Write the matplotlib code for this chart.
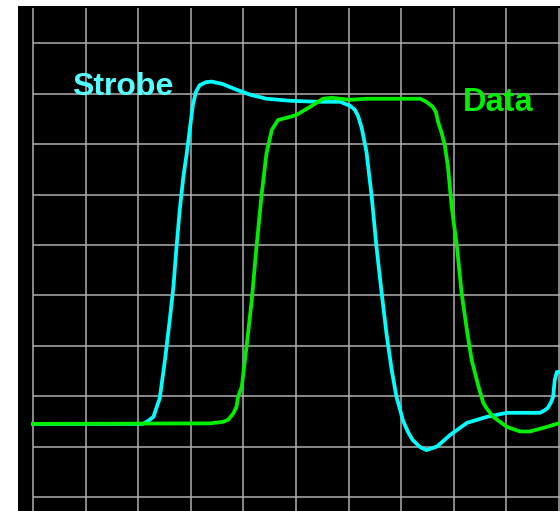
import numpy as np
import matplotlib
matplotlib.use('Agg')
from matplotlib import pyplot as plt

# scope trace, units are screen divisions
strobe_t = [0, 2.09, 2.19, 2.29, 2.41, 2.51, 2.60, 2.67, 2.73, 2.79, 2.86, 2.92, 2.98,
            3.04, 3.10, 3.17, 3.29, 3.40, 3.61, 3.87, 4.13, 4.44, 4.89, 5.39, 5.84,
            6.03, 6.12, 6.18, 6.25, 6.34, 6.44, 6.53, 6.63, 6.72, 6.82, 6.91, 6.98,
            7.03, 7.13, 7.22, 7.36, 7.48, 7.68, 7.93, 8.25, 8.63, 9.01, 9.64, 9.73,
            9.79, 9.85, 9.89, 9.92, 9.96, 10.02]
strobe_v = [1.45, 1.45, 1.51, 1.59, 1.96, 2.72, 3.51, 4.17, 4.97, 5.69, 6.36, 6.79, 7.28,
            7.78, 8.04, 8.17, 8.23, 8.24, 8.19, 8.08, 7.98, 7.90, 7.86, 7.84, 7.84,
            7.76, 7.68, 7.56, 7.32, 6.85, 5.96, 4.97, 4.04, 3.25, 2.52, 1.99, 1.73,
            1.53, 1.29, 1.13, 0.99, 0.93, 1.00, 1.23, 1.47, 1.59, 1.67, 1.67, 1.72,
            1.77, 1.88, 1.99, 2.32, 2.48, 2.48]

data_t = [0, 3.37, 3.61, 3.71, 3.81, 3.87, 3.90, 3.97, 4.06, 4.16, 4.25, 4.35, 4.44,
          4.54, 4.66, 4.85, 5.01, 5.27, 5.51, 5.68, 5.84, 6.03, 6.34, 7.36, 7.48,
          7.60, 7.66, 7.70, 7.77, 7.83, 7.89, 7.96, 8.06, 8.15, 8.25, 8.34, 8.47,
          8.56, 8.63, 8.75, 9.01, 9.26, 9.45, 9.77, 10.02]
data_v = [1.45, 1.46, 1.49, 1.53, 1.66, 1.79, 1.99, 2.19, 2.98, 3.91, 4.97, 6.03, 6.82,
          7.28, 7.48, 7.53, 7.58, 7.74, 7.90, 7.92, 7.90, 7.88, 7.90, 7.90, 7.84,
          7.74, 7.64, 7.45, 7.22, 6.98, 6.55, 5.76, 4.97, 4.04, 3.31, 2.72, 2.19,
          1.87, 1.75, 1.59, 1.39, 1.30, 1.30, 1.39, 1.47]

fig = plt.figure(figsize=(5.6, 5.11), dpi=100)
ax = fig.add_axes([18 / 560, 0, 1 - 18 / 560, 505 / 511])
ax.set_facecolor('black')
ax.set_xlim(-0.285, 10.02)
ax.set_ylim(-0.278, 9.74)

# graticule
ax.hlines(np.arange(0, 10), 0, 10.1, color='#b0b0b0', lw=1.1, zorder=1)
ax.vlines(np.arange(0, 11), -0.3, 9.7, color='#b0b0b0', lw=1.1, zorder=1)

ax.plot(strobe_t, strobe_v, color='#00ffff', lw=2.7, zorder=3, solid_joinstyle='round')
ax.plot(data_t, data_v, color='#00ee00', lw=2.7, zorder=4, solid_joinstyle='round')

ax.text(0.74, 8.13, 'Strobe', color='#55ffff', fontsize=23, fontweight='bold',
        family='Liberation Sans', va='center', ha='left')
ax.text(8.18, 7.83, 'Data', color='#00ee00', fontsize=23.5, fontweight='bold',
        family='Liberation Sans', va='center', ha='left')

ax.set_xticks([])
ax.set_yticks([])
for s in ax.spines.values():
    s.set_visible(False)

fig.savefig('out.png', dpi=100, facecolor='white')
